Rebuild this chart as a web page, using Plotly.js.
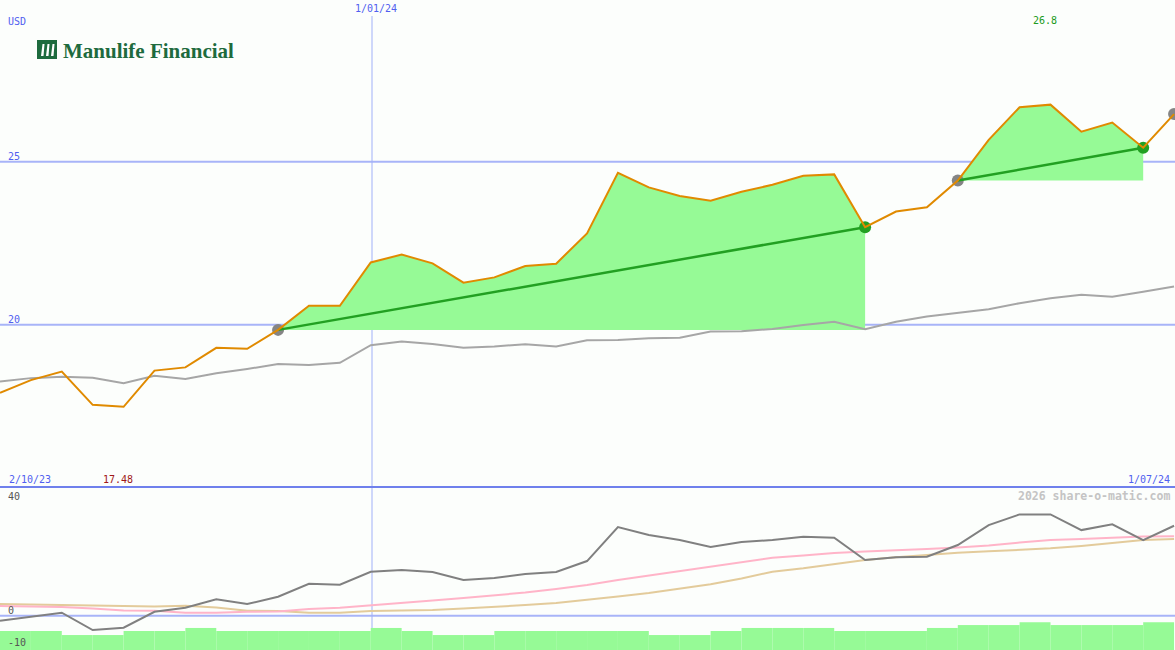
<!DOCTYPE html>
<html>
<head>
<meta charset="utf-8">
<script src="https://cdn.plot.ly/plotly-3.0.1.min.js"></script>
<style>
  html, body { margin: 0; padding: 0; background: #FCFEFC; }
  #chart { width: 1175px; height: 650px; }
</style>
</head>
<body>
<div id="chart"></div>
<script>
// ---------- DATA (weekly points, index 0 = 2/10/23 ... right edge = 1/07/24) ----------
const price = [17.91, 18.30, 18.56, 17.54, 17.48, 18.59, 18.69, 19.29, 19.26, 19.84,
               20.58, 20.58, 21.91, 22.15, 21.88, 21.29, 21.45, 21.80, 21.87, 22.80,
               24.66, 24.21, 23.95, 23.80, 24.08, 24.29, 24.57, 24.61, 22.99, 23.47,
               23.60, 24.42, 25.67, 26.67, 26.75, 25.92, 26.20, 25.43, 26.46];
const index = [18.26, 18.36, 18.40, 18.37, 18.20, 18.43, 18.33, 18.51, 18.64, 18.79,
               18.76, 18.83, 19.37, 19.48, 19.41, 19.29, 19.33, 19.40, 19.33, 19.52,
               19.53, 19.58, 19.60, 19.79, 19.80, 19.87, 19.99, 20.09, 19.86, 20.09,
               20.25, 20.35, 20.47, 20.66, 20.81, 20.92, 20.86, 21.01, 21.17];
const momentum = [-1.55, -0.31, 0.93, -4.44, -3.73, 1.24, 2.48, 5.09, 3.63, 5.90,
                  9.94, 9.63, 13.66, 14.19, 13.57, 11.09, 11.71, 12.95, 13.57, 16.99,
                  27.55, 25.06, 23.51, 21.34, 22.89, 23.51, 24.53, 24.22, 17.30, 18.14,
                  18.32, 21.96, 28.17, 31.49, 31.49, 26.61, 28.39, 23.51, 27.95];
const avgFast = [3.01, 2.80, 2.70, 2.24, 1.61, 1.55, 0.93, 0.93, 1.24, 1.30,
                 2.08, 2.48, 3.17, 4.04, 4.72, 5.50, 6.27, 7.20, 8.29, 9.53,
                 11.09, 12.48, 14.04, 15.43, 16.83, 18.01, 18.70, 19.47, 19.94, 20.25,
                 20.71, 21.18, 21.80, 22.73, 23.51, 23.82, 24.29, 24.60, 24.66];
const avgSlow = [3.63, 3.48, 3.32, 3.32, 3.11, 2.86, 3.11, 2.55, 1.55, 1.46,
                 0.93, 0.93, 1.46, 1.55, 1.77, 2.24, 2.70, 3.32, 3.94, 4.88,
                 5.96, 7.05, 8.29, 9.75, 11.58, 13.66, 14.72, 15.96, 17.30, 18.14,
                 18.85, 19.57, 20.00, 20.40, 20.93, 21.65, 22.48, 23.51, 23.82];
const volumeBars = [-4.75, -4.75, -6.0, -6.0, -4.75, -4.75, -3.8, -4.75, -4.75, -4.75,
                    -4.75, -4.75, -3.8, -4.75, -6.0, -6.0, -4.75, -4.75, -4.75, -4.75,
                    -4.75, -6.0, -6.0, -4.75, -3.8, -3.8, -3.8, -4.75, -4.75, -4.75,
                    -3.8, -2.9, -2.9, -2.0, -2.9, -2.9, -2.9, -2.0];
const signalStarts = [9, 31];
const signalEnds = [28, 37];
const openSignal = [38];
const dateLabels = ['2/10/23', '1/01/24', '1/07/24'];
const markerDateIndex = 12.04;
const minLabel = '17.48';
const maxLabel = '26.8';
const priceTicks = [20, 25];
const lowerTicks = [40, 0, -10];

// ---------- helpers ----------
const W = 1175, H = 650;
const px = x => x / W;
const py = y => 1 - y / H;
const xs = price.map((_, i) => i);

const FILL = '#96FA96';
const traces = [];

// green gain areas
signalStarts.forEach((s, j) => {
  const e = signalEnds[j];
  const segX = xs.slice(s, e + 1);
  traces.push({x: segX, y: segX.map(() => price[s]), type: 'scatter', mode: 'lines',
               line: {width: 0, color: FILL}, hoverinfo: 'skip'});
  traces.push({x: segX, y: price.slice(s, e + 1), type: 'scatter', mode: 'lines',
               fill: 'tonexty', fillcolor: FILL, line: {width: 0, color: FILL}, hoverinfo: 'skip'});
});

// grey comparison line (top)
traces.push({x: xs, y: index, type: 'scatter', mode: 'lines',
             line: {color: '#A6A6A6', width: 2}});

// lower panel bars
traces.push({x: xs.slice(0, volumeBars.length).map(i => i + 0.5), y: volumeBars.map(v => v + 12), base: -12,
             width: 1, type: 'bar', yaxis: 'y2', marker: {color: FILL, line: {width: 0}}});
// lower panel lines
traces.push({x: xs, y: avgSlow, type: 'scatter', mode: 'lines', yaxis: 'y2',
             line: {color: '#E3CB9B', width: 2}});
traces.push({x: xs, y: avgFast, type: 'scatter', mode: 'lines', yaxis: 'y2',
             line: {color: '#FFB4C8', width: 2}});
traces.push({x: xs, y: momentum, type: 'scatter', mode: 'lines', yaxis: 'y2',
             line: {color: '#808080', width: 2}});

// markers
const startIdx = signalStarts.concat(openSignal);
traces.push({x: startIdx, y: startIdx.map(i => price[i]), type: 'scatter', mode: 'markers',
             marker: {color: '#858585', size: 12}});
traces.push({x: signalEnds, y: signalEnds.map(i => price[i]), type: 'scatter', mode: 'markers',
             marker: {color: '#22A022', size: 12}});

// trend lines
signalStarts.forEach((s, j) => {
  const e = signalEnds[j];
  traces.push({x: [s, e], y: [price[s], price[e]], type: 'scatter', mode: 'lines',
               line: {color: '#22A022', width: 2.5}});
});

// price line
traces.push({x: xs, y: price, type: 'scatter', mode: 'lines',
             line: {color: '#E08A00', width: 2}});

// ---------- shapes ----------
const shapes = [];
priceTicks.forEach(v => shapes.push({type: 'line', xref: 'paper', x0: 0, x1: 1, yref: 'y', y0: v, y1: v,
  line: {color: '#A8B4F8', width: 2}, layer: 'below'}));
shapes.push({type: 'line', xref: 'paper', x0: 0, x1: 1, yref: 'y2', y0: 0, y1: 0,
  line: {color: '#A8B4F8', width: 2}, layer: 'below'});
shapes.push({type: 'line', xref: 'x', x0: markerDateIndex, x1: markerDateIndex, yref: 'paper', y0: 0, y1: py(16),
  line: {color: '#A0B0F8', width: 1}, layer: 'below'});
shapes.push({type: 'line', xref: 'paper', x0: 0, x1: 1, yref: 'paper', y0: py(487), y1: py(487),
  line: {color: '#6F80EC', width: 2}, layer: 'above'});
// logo icon
shapes.push({type: 'rect', xref: 'paper', yref: 'paper', x0: px(37), x1: px(57), y0: py(59), y1: py(40),
  fillcolor: '#1E6B3E', line: {width: 0}, layer: 'above'});
[41, 46, 51].forEach(x => shapes.push({type: 'path', xref: 'paper', yref: 'paper',
  path: `M ${px(x+1.5)} ${py(44)} L ${px(x+3.5)} ${py(44)} L ${px(x+2.5)} ${py(56)} L ${px(x)} ${py(56)} Z`,
  fillcolor: '#FFFFFF', line: {width: 0}, layer: 'above'}));

// ---------- annotations ----------
const mono = 'DejaVu Sans Mono, monospace';
const BLUE = '#5060F0';
const ann = (text, x, y, color, opts = {}) => Object.assign({
  text, xref: 'paper', yref: 'paper', x: px(x), y: py(y), xanchor: 'left', yanchor: 'middle',
  showarrow: false, font: {family: mono, size: 10, color}}, opts);
const annotations = [
  ann('USD', 6, 21.5, BLUE),
  ann(dateLabels[1], 375.5, 9, BLUE, {xanchor: 'center'}),
  ann(maxLabel, 1045, 21, '#209A20', {xanchor: 'center'}),
  ann(String(priceTicks[1]), 5.5, 156, BLUE),
  ann(String(priceTicks[0]), 5.5, 319, BLUE),
  ann(dateLabels[0], 7, 479, BLUE),
  ann(minLabel, 118, 479, '#A01818', {xanchor: 'center'}),
  ann(dateLabels[2], 1172, 479, BLUE, {xanchor: 'right'}),
  ann(String(lowerTicks[0]), 5.5, 496, '#555555'),
  ann(String(lowerTicks[1]), 5.5, 610, '#555555'),
  ann(String(lowerTicks[2]), 5.5, 642, '#555555'),
  ann('<b>2026 share-o-matic.com</b>', 1172, 496, '#C4C4C4', {xanchor: 'right', font: {family: mono, size: 11.5, color: '#C4C4C4'}}),
  ann('<b>Manulife Financial</b>', 61, 51, '#1E6B3E', {font: {family: 'Liberation Serif, serif', size: 21, color: '#1E6B3E'}})
];

const layout = {
  width: W, height: H,
  margin: {l: 0, r: 0, t: 0, b: 0, pad: 0},
  paper_bgcolor: '#FCFEFC', plot_bgcolor: '#FCFEFC',
  showlegend: false,
  barmode: 'overlay',
  xaxis: {range: [0, 38.03], visible: false, fixedrange: true},
  yaxis: {domain: [py(487), 1], range: [15.02, 29.96], visible: false, fixedrange: true},
  yaxis2: {domain: [0, py(487)], range: [-10.65, 40], visible: false, fixedrange: true},
  shapes, annotations
};

Plotly.newPlot('chart', traces, layout, {staticPlot: true, displayModeBar: false});
</script>
</body>
</html>
